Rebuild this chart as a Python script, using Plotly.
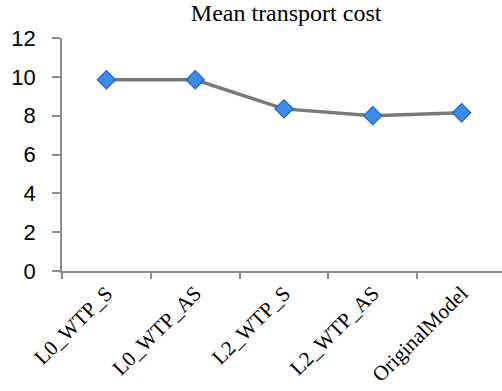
import plotly.graph_objects as go

# Mean transport cost per model variant
models = ["L0_WTP_S", "L0_WTP_AS", "L2_WTP_S", "L2_WTP_AS", "OriginalModel"]
mean_cost = [9.85, 9.85, 8.35, 8.0, 8.15]
y_ticks = [0, 2, 4, 6, 8, 10, 12]

serif = "Liberation Serif, Times New Roman, serif"
sans = "Liberation Sans, Arial, sans-serif"
axis_grey = "#8c8c8c"

fig = go.Figure()

fig.add_trace(go.Scatter(
    x=models, y=mean_cost, mode="lines+markers",
    line=dict(color="#7a7a7a", width=3.5),
    marker=dict(symbol="diamond", size=14, color="#3f8ce8",
                line=dict(color="#1d62c6", width=1.2)),
    showlegend=False,
))

fig.update_layout(
    width=502, height=391,
    margin=dict(l=62, r=0, t=38, b=120),
    paper_bgcolor="white", plot_bgcolor="white",
    title=dict(text="Mean transport cost", x=0.57, xanchor="center", y=0.99, yanchor="top",
               font=dict(family=serif, size=24, color="black")),
    xaxis=dict(
        type="category", range=[-0.5, 4.455],
        showline=True, linecolor=axis_grey, linewidth=1.5,
        ticks="outside", tickson="boundaries", ticklen=6, tickcolor=axis_grey, tickwidth=1.5,
        tickangle=-45, showgrid=False, zeroline=False,
        tickfont=dict(family=serif, size=21, color="black"),
    ),
    yaxis=dict(
        range=[0, 12], tickvals=y_ticks,
        showline=True, linecolor=axis_grey, linewidth=1.5,
        ticks="outside", ticklen=8, tickcolor=axis_grey, tickwidth=1.5,
        ticklabelstandoff=12,
        showgrid=False, zeroline=False,
        tickfont=dict(family=sans, size=22, color="black"),
    ),
)

fig.write_html("out.html")
